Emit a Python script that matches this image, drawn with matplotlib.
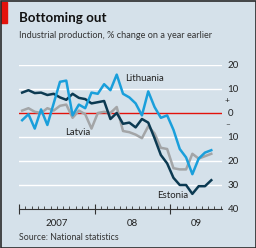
import numpy as np
import matplotlib
matplotlib.use("Agg")
from matplotlib import pyplot as plt
from matplotlib.patches import Rectangle

plt.rcParams['font.family'] = ['Lato', 'DejaVu Sans']

# monthly, Jan 2007 - Jul 2009, % change on a year earlier
lithuania = [-3, -0.5, -6.5, 1.5, -5, 4, 13, 13.5, -1, 3.5, 2, 8.5, 8, 12, 9.5, 16,
             8, 6.5, 4, -1, 9, 2.5, -2, -1, -7, -15, -18.5, -25.5, -19, -16.5, -15.5]
latvia = [1, 2, 0.5, 0, 2, 1, 3, 3.5, -2, 1, -0.5, -6.5, 0, 0.5, 0, 2.5,
          -7.5, -8, -9, -10.5, -5.5, -8.5, -14.5, -15, -23, -23.5, -23.5, -17, -19, -18, -17]
estonia = [8.5, 9.5, 8.3, 8.5, 7.5, 8, 6.5, 5.5, 8, 6.3, 5.8, 4, 4.5, 5, -2.5, 0,
           -4.5, -4, -6, -2.5, -4, -10.5, -17.5, -21, -27, -30, -30, -33.7, -30.5, -30.5, -28]

months = np.arange(len(estonia)) + 0.5
year_starts = [0, 12, 24]
year_labels = ["2007", "08", "09"]
year_label_pos = [6, 18, 28.1]
yticks = [-40, -30, -20, -10, 0, 10, 20]

bg = '#d5e1ea'
c_lit = '#1a9fdb'
c_est = '#0c3a52'
c_lat = '#a3a5a7'
red = '#e3120b'

fig = plt.figure(figsize=(2.56, 2.48), dpi=100)
fig.patch.set_facecolor(bg)
W, H = 256, 248

ax = fig.add_axes([19 / W, 1 - 209 / H, 203 / W, 144 / H])
ax.set_facecolor(bg)
ax.set_xlim(0, 32.2)
ax.set_ylim(-40, 20)

for v in yticks[1:]:
    ax.axhline(v, color='white' if v != 0 else red, lw=1.0, zorder=1)

ax.plot(months, latvia, color=c_lat, lw=1.8, zorder=3, solid_joinstyle='round')
ax.plot(months, estonia, color=c_est, lw=1.8, zorder=4, solid_joinstyle='round')
ax.plot(months, lithuania, color=c_lit, lw=1.8, zorder=5, solid_joinstyle='round')

ax.text(16.9, 14.5, "Lithuania", fontsize=6.9, color='#222222', ha='left', va='center')
ax.text(7.3, -8.0, "Latvia", fontsize=6.9, color='#222222', ha='left', va='center')
ax.text(21.9, -34.5, "Estonia", fontsize=6.9, color='#222222', ha='left', va='center')

for s in ['top', 'left', 'right']:
    ax.spines[s].set_visible(False)
ax.spines['bottom'].set_color('#333333')
ax.spines['bottom'].set_linewidth(0.8)

ax.set_xticks(year_starts)
ax.set_xticklabels([])
ax.set_xticks(np.arange(1, 33), minor=True)
ax.tick_params(axis='x', which='major', direction='inout', length=7, width=0.8, color='#333333')
ax.tick_params(axis='x', which='minor', direction='in', length=2.5, width=0.6, color='#333333')
for pos, lab in zip(year_label_pos, year_labels):
    ax.text(pos, -44, lab, fontsize=7, color='#222222',
            ha='center', va='top', clip_on=False)

ax.yaxis.tick_right()
ax.set_yticks(yticks)
ax.set_yticklabels([str(abs(v)) for v in yticks], fontsize=7, color='#222222')
ax.tick_params(axis='y', length=0, pad=4)
ax.text(1.012, 5, "+", transform=ax.get_yaxis_transform(), fontsize=6, color='#222222',
        ha='left', va='center')
ax.text(1.014, -5, "–", transform=ax.get_yaxis_transform(), fontsize=6, color='#222222',
        ha='left', va='center')

fig.text(19 / W, 1 - 18.5 / H, "Bottoming out", fontsize=9.6, fontweight='bold',
         color='#111111', ha='left', va='center')
fig.text(19 / W, 1 - 36 / H, "Industrial production, % change on a year earlier",
         fontsize=6.6, color='#333333', ha='left', va='center')
fig.text(19 / W, 1 - 238 / H, "Source: National statistics", fontsize=6.3,
         color='#333333', ha='left', va='center')

fig.patches.append(Rectangle((1 / W, 1 - 23 / H), 6 / W, 21 / H, transform=fig.transFigure,
                             color=red, zorder=5))
fig.patches.append(Rectangle((0.5 / W, 0.5 / H), 1 - 1 / W, 1 - 1 / H, transform=fig.transFigure,
                             fill=False, edgecolor='#2a2a2a', lw=1.2, zorder=6))

fig.savefig("out.png", dpi=100, facecolor=bg)
